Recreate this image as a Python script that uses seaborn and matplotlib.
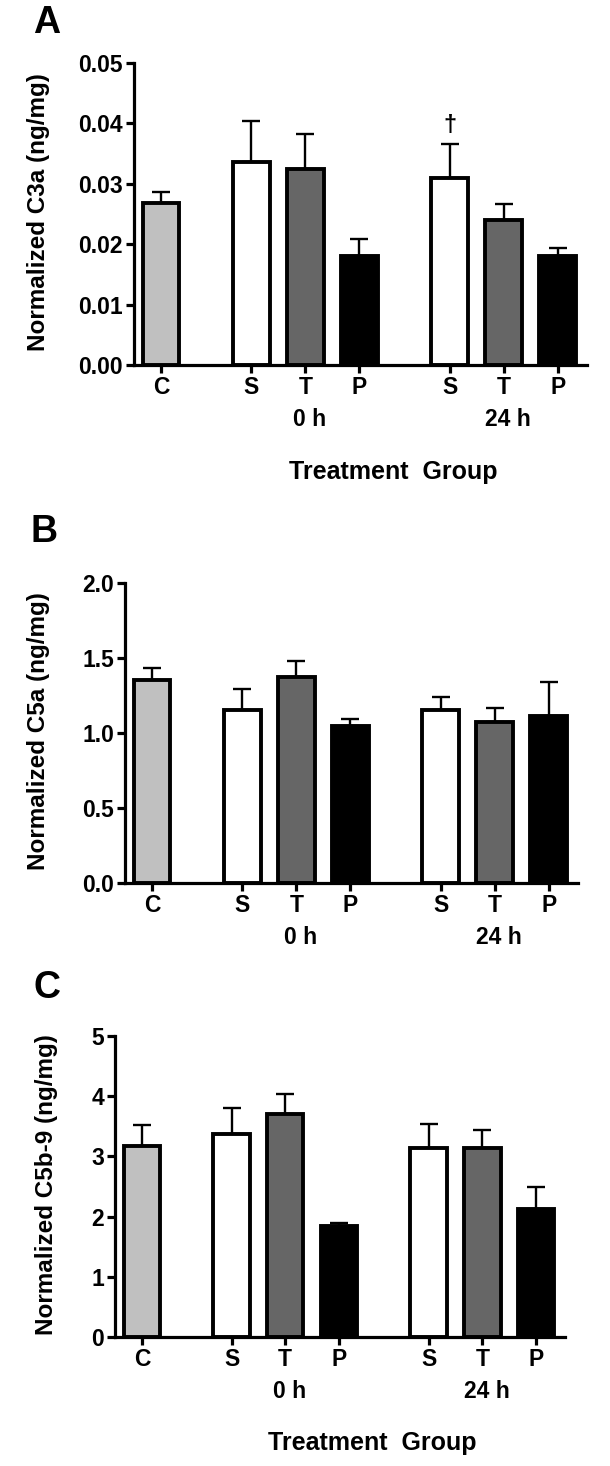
"""Complement fragments C3a, C5a and C5b-9 by treatment group."""

import matplotlib

matplotlib.use("Agg")

import matplotlib.pyplot as plt
import numpy as np
import seaborn as sns

sns.set_theme(style="ticks")
plt.rcParams["font.family"] = ["Liberation Sans", "DejaVu Sans"]
plt.rcParams["font.weight"] = "bold"
plt.rcParams["axes.labelweight"] = "bold"
for key in ("text.color", "axes.labelcolor", "xtick.color", "ytick.color", "axes.edgecolor"):
    plt.rcParams[key] = "black"

groups = ["C", "S", "T", "P", "S", "T", "P"]
timepoints = ["", "0 h", "0 h", "0 h", "24 h", "24 h", "24 h"]
bar_colors = ["#c0c0c0", "#ffffff", "#666666", "#000000", "#ffffff", "#666666", "#000000"]

c3a_mean = [0.0268, 0.0336, 0.0324, 0.0181, 0.0309, 0.0240, 0.0181]
c3a_sem = [0.0019, 0.0068, 0.0058, 0.0028, 0.0057, 0.0027, 0.0013]

c5a_mean = [1.351, 1.151, 1.376, 1.044, 1.151, 1.076, 1.116]
c5a_sem = [0.082, 0.145, 0.106, 0.049, 0.089, 0.093, 0.224]

c5b9_mean = [3.18, 3.37, 3.71, 1.84, 3.14, 3.14, 2.12]
c5b9_sem = [0.34, 0.44, 0.32, 0.06, 0.39, 0.30, 0.37]

# spacing between bars: one slot each plus a gap whenever the timepoint changes
GAP = 0.67
positions = []
block = 0
for i, tp in enumerate(timepoints):
    if i > 0 and tp != timepoints[i - 1]:
        block += 1
    positions.append(i + GAP * block)
positions = np.array(positions)

EDGE = 2.8
SPINE = 2.3
TICK_FS = 16.5


def draw_panel(ax, means, sems, ylabel, yticks, fmt, label_x, with_title):
    sns.barplot(x=positions, y=means, native_scale=True, width=0.68, errorbar=None,
                color="white", edgecolor="black", linewidth=EDGE, ax=ax)
    for patch, color in zip(ax.patches, bar_colors):
        patch.set_facecolor(color)
        patch.set_zorder(2)
    lower = np.zeros(len(means))
    ax.errorbar(positions, means, yerr=[lower, sems], fmt="none", ecolor="black",
                elinewidth=1.7, capsize=6.3, capthick=1.7, zorder=1)

    ax.set_xlim(-0.5, 7.88)
    ax.set_ylim(yticks[0], yticks[-1])
    ax.set_yticks(yticks)
    ax.set_yticklabels([fmt.format(t) for t in yticks])
    ax.set_xticks(positions)
    ax.set_xticklabels(groups)
    ax.tick_params(axis="both", labelsize=TICK_FS, width=SPINE, length=6, pad=2,
                   color="black", labelcolor="black")
    sns.despine(ax=ax)
    for side in ("left", "bottom"):
        ax.spines[side].set_linewidth(SPINE)
        ax.spines[side].set_color("black")

    for tp in ("0 h", "24 h"):
        idx = [i for i, t in enumerate(timepoints) if t == tp]
        centre = positions[idx].mean() + 0.08
        ax.annotate(tp, xy=(centre, 0), xycoords=("data", "axes fraction"),
                    xytext=(0, -39), textcoords="offset points",
                    ha="center", va="center", fontsize=TICK_FS, fontweight="bold")

    ax.set_ylabel(ylabel, fontsize=17.5, fontweight="bold")
    ax.yaxis.label.set_va("center")
    ax.yaxis.set_label_coords(label_x, 0.505)
    if with_title:
        ax.set_xlabel("Treatment  Group", fontsize=18, fontweight="bold")
        ax.xaxis.label.set_va("center")
        ax.xaxis.set_label_coords(0.572, -0.353)
    else:
        ax.set_xlabel("")


fig = plt.figure(figsize=(6.1, 14.66), dpi=100)
fig.patch.set_facecolor("white")

ax_a = fig.add_axes([134 / 610, 1 - 365 / 1466, 453 / 610, 302 / 1466])
ax_b = fig.add_axes([125 / 610, 1 - 883 / 1466, 453 / 610, 300 / 1466])
ax_c = fig.add_axes([115 / 610, 1 - 1337 / 1466, 450 / 610, 301 / 1466])

draw_panel(ax_a, c3a_mean, c3a_sem, "Normalized C3a (ng/mg)",
           [0.0, 0.01, 0.02, 0.03, 0.04, 0.05], "{:.2f}", -0.21, True)
draw_panel(ax_b, c5a_mean, c5a_sem, "Normalized C5a (ng/mg)",
           [0.0, 0.5, 1.0, 1.5, 2.0], "{:.1f}", -0.19, False)
draw_panel(ax_c, c5b9_mean, c5b9_sem, "Normalized C5b-9 (ng/mg)",
           [0, 1, 2, 3, 4, 5], "{:d}", -0.152, True)

# significance mark over the 24 h saline bar
ax_a.annotate("\u2020", xy=(positions[4], c3a_mean[4] + c3a_sem[4]), xytext=(0, 13),
              textcoords="offset points", ha="center", va="center",
              fontsize=17, fontweight="bold")

for letter, (x, y) in zip("ABC", [(47, 23), (44, 532), (47, 988)]):
    fig.text(x / 610, 1 - y / 1466, letter, ha="center", va="center",
             fontsize=27, fontweight="bold")

fig.savefig("out.png", dpi=100, facecolor="white")
